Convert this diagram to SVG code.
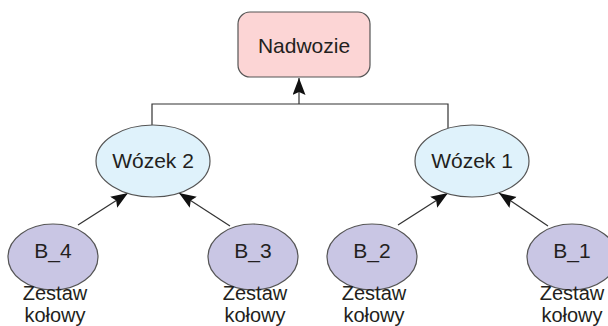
<svg xmlns="http://www.w3.org/2000/svg" width="608" height="326" viewBox="0 0 608 326">
<style>
text{font-family:"Liberation Sans",Arial,sans-serif;font-size:21px;fill:#231f20;text-anchor:middle}
.sub{font-size:20px}
.root{fill:#fcd5d5;stroke:#555;stroke-width:1.2}
.mid{fill:#dff2fb;stroke:#555;stroke-width:1.2}
.leaf{fill:#c9c6e4;stroke:#555;stroke-width:1.2}
.con{fill:none;stroke:#333;stroke-width:1.2}
</style>
<defs>
<marker id="ah" markerUnits="userSpaceOnUse" markerWidth="20" markerHeight="14" refX="17" refY="6.5" orient="auto">
<path d="M0,0 L17,6.5 L0,13 L3,6.5 Z" fill="#111"/>
</marker>
</defs>
<rect width="608" height="326" fill="#fff"/>
<g id="connectors">
<path class="con" d="M152,125 V104 H448 V128"/>
<path class="con" d="M299,104 V78" marker-end="url(#ah)"/>
<path class="con" d="M78,225 L128,193" marker-end="url(#ah)"/>
<path class="con" d="M230,226 L179,193" marker-end="url(#ah)"/>
<path class="con" d="M398,225 L448,193" marker-end="url(#ah)"/>
<path class="con" d="M548,226 L499,193" marker-end="url(#ah)"/>
</g>
<g id="nadwozie">
<rect class="root" x="238" y="12" width="132" height="65" rx="12"/>
<text x="304" y="53">Nadwozie</text>
</g>
<g id="wozek2">
<ellipse class="mid" cx="153" cy="161" rx="57" ry="36"/>
<text x="153" y="168">Wózek 2</text>
</g>
<g id="wozek1">
<ellipse class="mid" cx="472" cy="161" rx="57" ry="36"/>
<text x="472" y="168">Wózek 1</text>
</g>
<g id="b4">
<ellipse class="leaf" cx="53" cy="257" rx="45" ry="33"/>
<text x="53" y="258">B_4</text>
<text class="sub" x="55" y="300">Zestaw</text>
<text class="sub" x="55" y="322">kołowy</text>
</g>
<g id="b3">
<ellipse class="leaf" cx="253" cy="257" rx="45" ry="33"/>
<text x="253" y="258">B_3</text>
<text class="sub" x="255" y="300">Zestaw</text>
<text class="sub" x="255" y="322">kołowy</text>
</g>
<g id="b2">
<ellipse class="leaf" cx="372" cy="257" rx="45" ry="33"/>
<text x="372" y="258">B_2</text>
<text class="sub" x="374" y="300">Zestaw</text>
<text class="sub" x="374" y="322">kołowy</text>
</g>
<g id="b1">
<ellipse class="leaf" cx="572" cy="257" rx="45" ry="33"/>
<text x="572" y="258">B_1</text>
<text class="sub" x="572" y="300">Zestaw</text>
<text class="sub" x="572" y="322">kołowy</text>
</g>
</svg>
